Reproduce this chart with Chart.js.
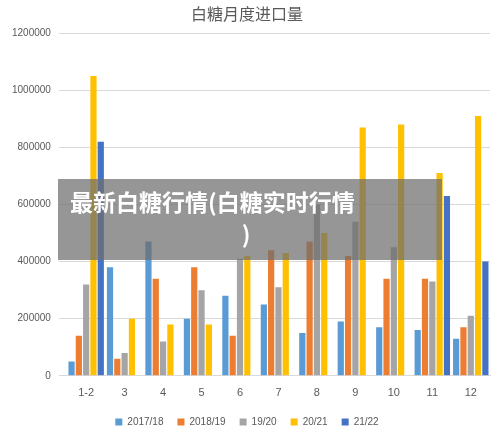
<!DOCTYPE html>
<html>
<head>
<meta charset="utf-8">
<script src="https://cdn.jsdelivr.net/npm/chart.js@4"></script>
<style>
  body { margin: 0; background: #fff; }
  #wrap { position: relative; width: 500px; height: 439px; }
  #banner {
    position: absolute; left: 58px; top: 179px; width: 384px; height: 81px;
    background: rgba(110,110,110,0.72); color: #fff;
    font: bold 23px "Noto Sans CJK SC", sans-serif; line-height: 32px;
    padding: 6px 0 0 12px; box-sizing: border-box;
  }
  #banner span { display: block; text-align: center; padding-right: 20px; }
</style>
</head>
<body>
<div id="wrap">
  <canvas id="chart" width="500" height="439"></canvas>
  <div id="banner">最新白糖行情(白糖实时行情<span>)</span></div>
</div>
<script>
// 白糖月度进口量
const months = ['1-2', '3', '4', '5', '6', '7', '8', '9', '10', '11', '12'];
const s1718 = [50000, 380000, 470000, 200000, 280000, 250000, 150000, 190000, 170000, 160000, 130000];
const s1819 = [140000, 60000, 340000, 380000, 140000, 440000, 470000, 420000, 340000, 340000, 170000];
const s1920 = [320000, 80000, 120000, 300000, 410000, 310000, 600000, 540000, 450000, 330000, 210000];
const s2021 = [1050000, 200000, 180000, 180000, 420000, 430000, 500000, 870000, 880000, 710000, 910000];
const s2122 = [820000, null, null, null, null, null, null, null, null, 630000, 400000];

const series = [
    ['2017/18', s1718, '#5b9bd5'],
    ['2018/19', s1819, '#ed7d31'],
    ['19/20', s1920, '#a5a5a5'],
    ['20/21', s2021, '#ffc000'],
    ['21/22', s2122, '#4472c4']
];

new Chart(document.getElementById('chart'), {
    type: 'bar',
    data: {
        labels: months,
        datasets: series.map(([label, data, color]) => ({
            label: label,
            data: data,
            backgroundColor: color,
            barPercentage: 0.85,
            categoryPercentage: 0.95
        }))
    },
    options: {
        responsive: false,
        animation: false,
        layout: { padding: { left: 4, right: 10, top: 0, bottom: 2 } },
        plugins: {
            title: {
                display: true,
                text: '白糖月度进口量',
                color: '#595959',
                font: { size: 16, family: 'Noto Sans CJK SC', weight: 'normal' },
                padding: { top: 4, bottom: 10 }
            },
            legend: {
                position: 'bottom',
                labels: { boxWidth: 7, boxHeight: 7, color: '#595959', font: { size: 10 }, padding: 14 }
            },
            tooltip: { enabled: false }
        },
        scales: {
            x: {
                grid: { display: false },
                border: { color: '#d9d9d9' },
                ticks: { color: '#595959', font: { size: 11 } }
            },
            y: {
                min: 0,
                max: 1200000,
                ticks: { stepSize: 200000, color: '#595959', font: { size: 10 }, callback: v => String(v), padding: 8 },
                grid: { color: '#d9d9d9' },
                border: { display: false }
            }
        }
    }
});
</script>
</body>
</html>
